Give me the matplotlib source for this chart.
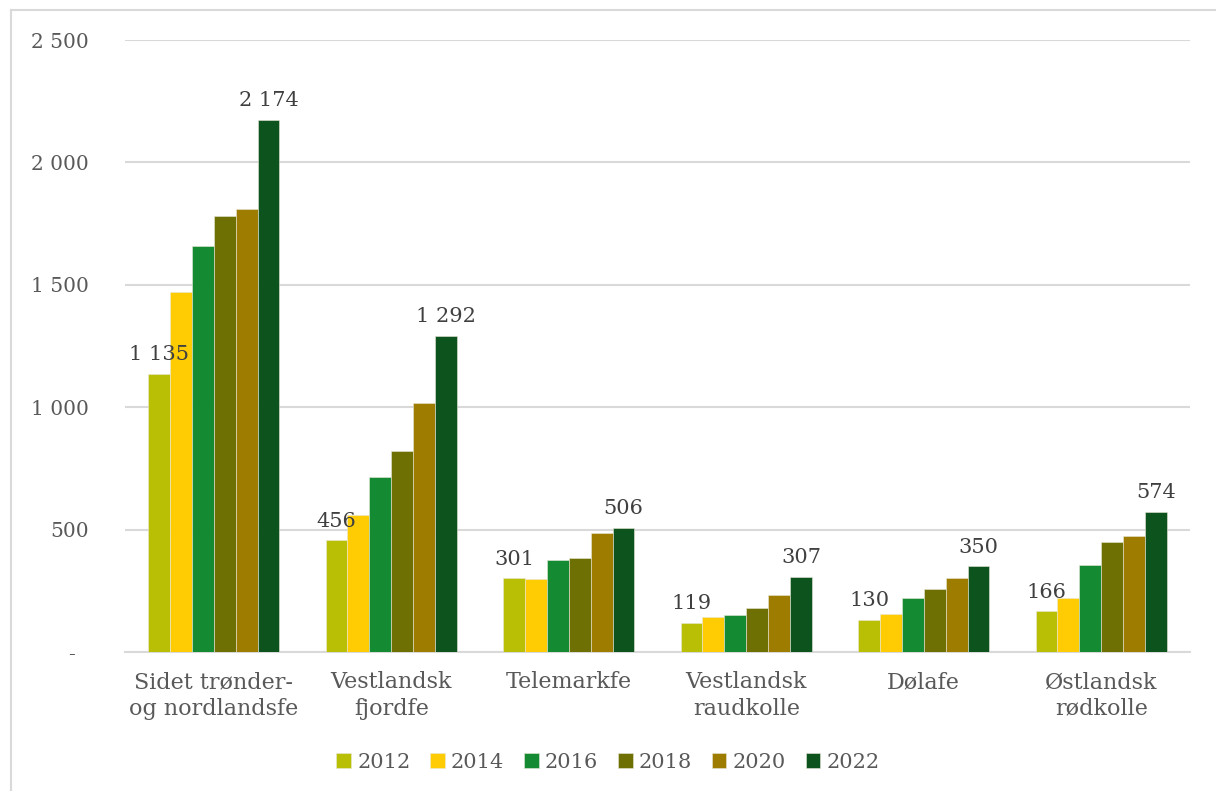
import matplotlib
matplotlib.use("Agg")
import matplotlib.pyplot as plt
import numpy as np
from matplotlib.lines import Line2D

# Breeds (x categories) and yearly counts per series
categories = ["Sidet trønder-\nog nordlandsfe", "Vestlandsk\nfjordfe", "Telemarkfe",
              "Vestlandsk\nraudkolle", "Dølafe", "Østlandsk\nrødkolle"]
years = ["2012", "2014", "2016", "2018", "2020", "2022"]
v2012 = [1135, 456, 301, 119, 130, 166]
v2014 = [1470, 560, 297, 143, 155, 219]
v2016 = [1658, 716, 377, 150, 221, 354]
v2018 = [1780, 822, 385, 180, 256, 451]
v2020 = [1808, 1018, 485, 232, 304, 473]
v2022 = [2174, 1292, 506, 307, 350, 574]
series = [v2012, v2014, v2016, v2018, v2020, v2022]
labelled = {"2012", "2022"}

colors = ["#B8BF05", "#FFCC03", "#148A32", "#6E7004", "#9E7C00", "#0C531E"]
text_color = "#595959"

plt.rcParams["font.family"] = ["DejaVu Serif"]

fig = plt.figure(figsize=(12.16, 7.91), dpi=100)
ax = fig.add_axes([0.1028, 0.1757, 0.9786 - 0.1028, 0.9494 - 0.1757])

x = np.arange(len(categories))
n = len(series)
width = 0.74 / n

for i, (yr, vals, col) in enumerate(zip(years, series, colors)):
    pos = x + (i - (n - 1) / 2) * width
    bars = ax.bar(pos, vals, width=width, color=col, edgecolor="#e8e8d8",
                  linewidth=0.4, label=yr, zorder=3)
    if yr in labelled:
        texts = ax.bar_label(bars, labels=[f"{v:,}".replace(",", " ") for v in vals],
                             padding=7, fontsize=15, color="#404040")
        for t in texts:
            t.set_zorder(10)

ax.set_xlim(-0.5, len(categories) - 0.5)
ax.set_ylim(0, 2500)
ticks = [0, 500, 1000, 1500, 2000, 2500]
ax.set_yticks(ticks)
ax.set_yticklabels(["-  "] + [f"{t:,}".replace(",", " ") for t in ticks[1:]])
ax.set_xticks(x)
ax.set_xticklabels(categories, fontsize=16, color=text_color, linespacing=1.25)

ax.tick_params(axis="y", length=0, pad=26, labelsize=14.5, labelcolor=text_color)
ax.tick_params(axis="x", length=0, pad=14)
ax.grid(axis="y", color="#d9d9d9", linewidth=1.5, zorder=0)
for side in ["top", "right", "left"]:
    ax.spines[side].set_visible(False)
ax.spines["bottom"].set_color("#d9d9d9")
ax.spines["bottom"].set_linewidth(1.5)

fig.legend(loc="center", bbox_to_anchor=(0.5, 1 - 762 / 791), ncol=6, frameon=False,
           fontsize=15, handlelength=0.7, handleheight=0.7, handletextpad=0.3,
           columnspacing=0.95, labelcolor=text_color)

# Outer chart frame (top and left edges)
fig.add_artist(Line2D([11 / 1216, 1.0], [1 - 9.5 / 791] * 2, transform=fig.transFigure,
                      color="#d9d9d9", linewidth=1.5))
fig.add_artist(Line2D([11 / 1216] * 2, [0.0, 1 - 9.5 / 791], transform=fig.transFigure,
                      color="#d9d9d9", linewidth=1.5))

fig.savefig("out.png", dpi=100, facecolor="white")
